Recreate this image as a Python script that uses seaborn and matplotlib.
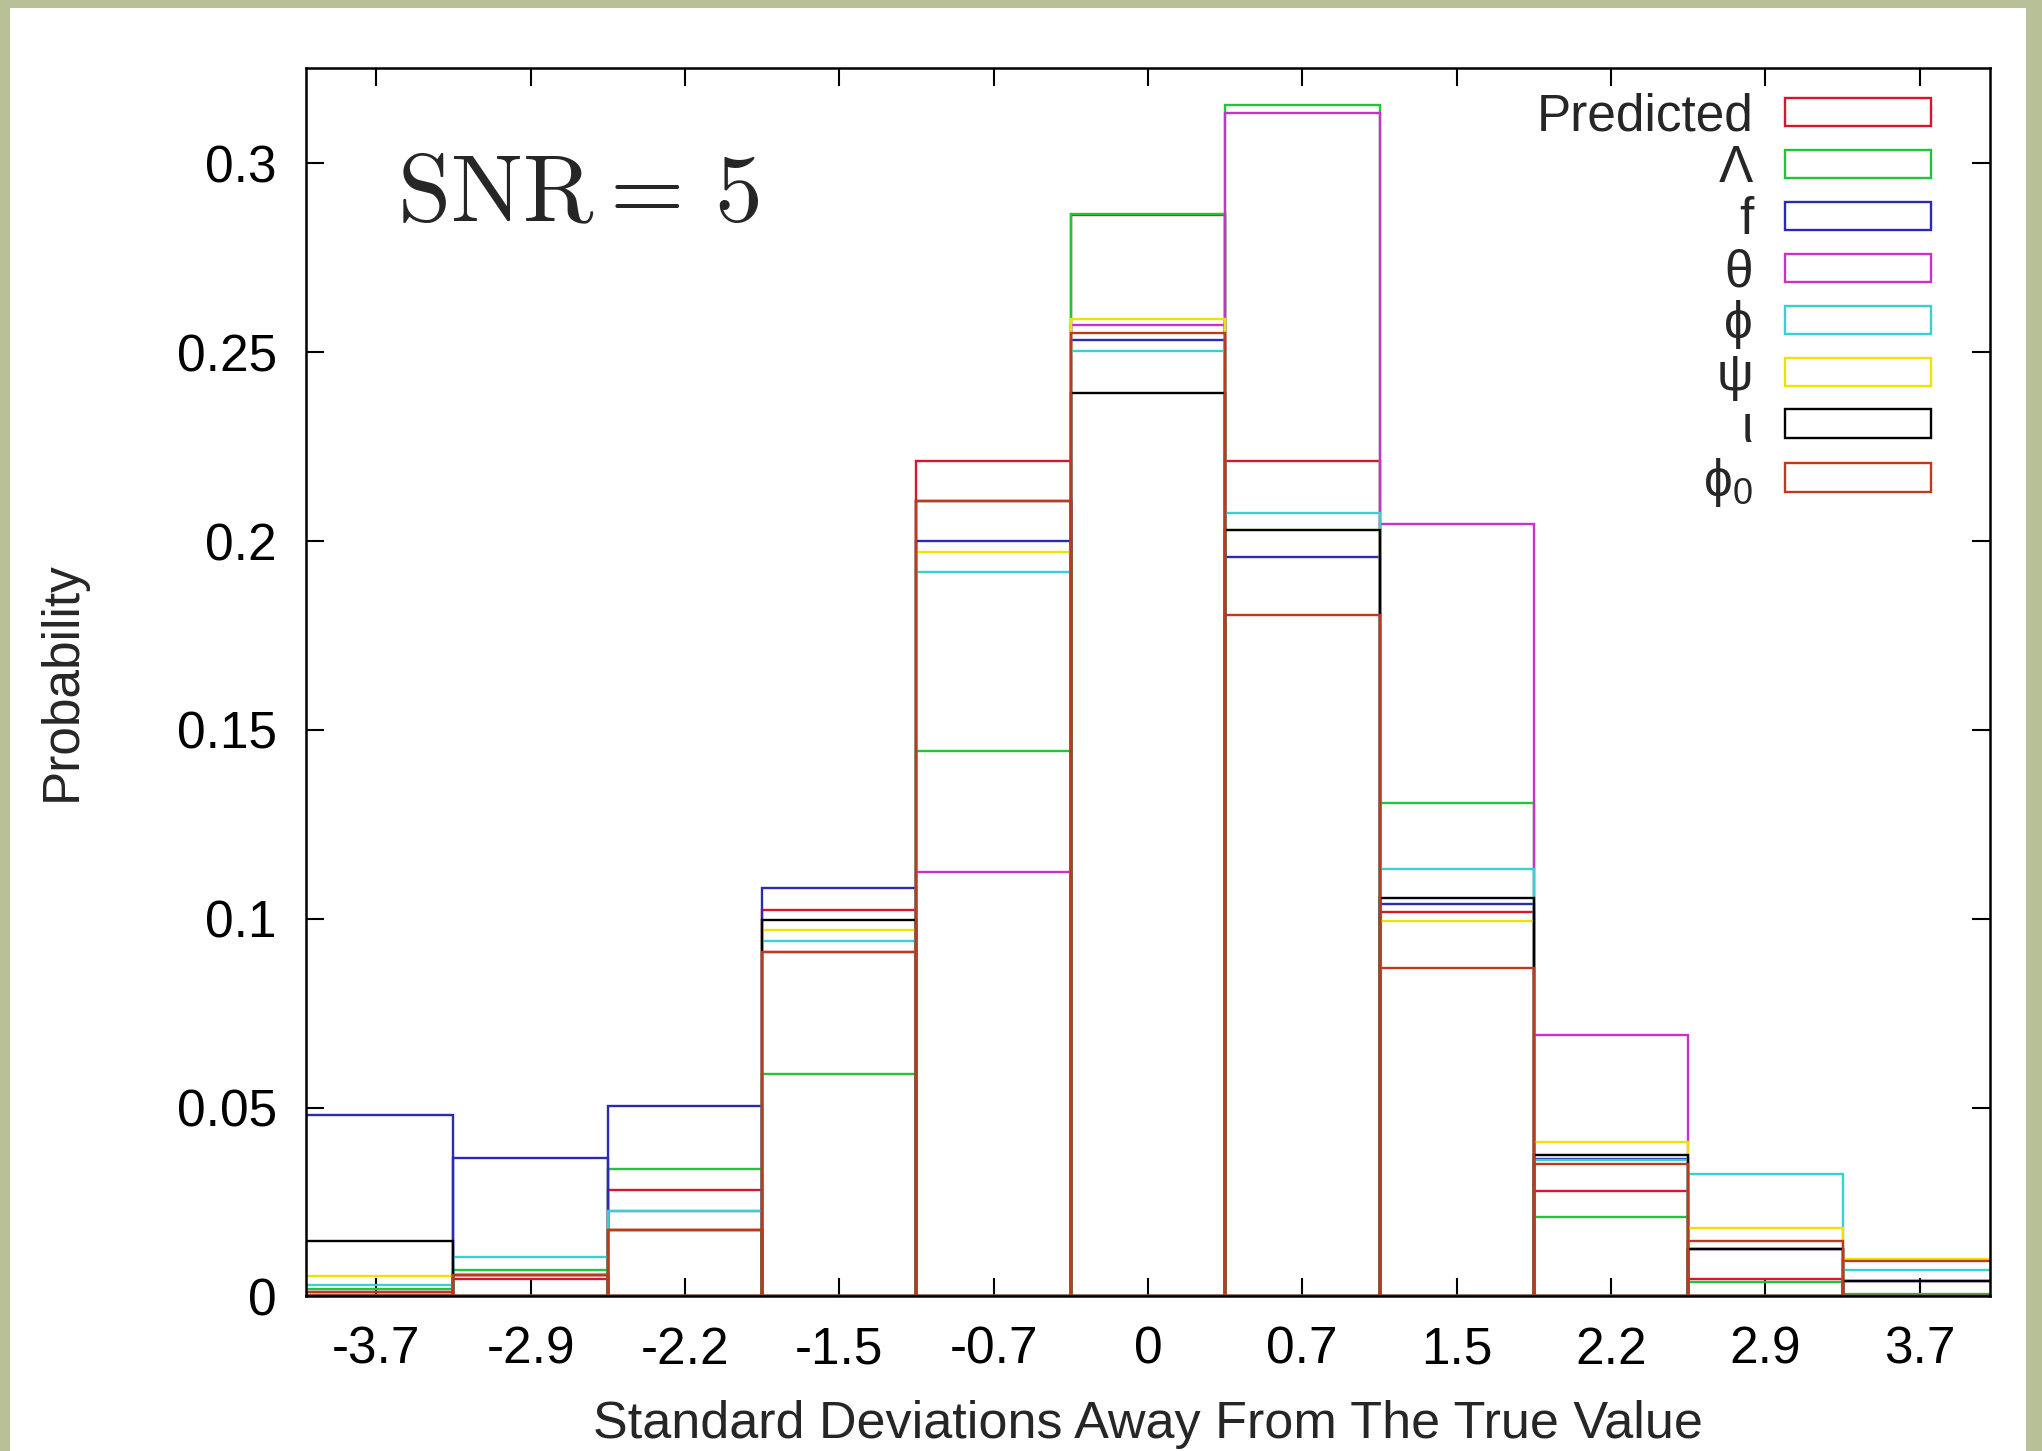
import matplotlib
matplotlib.use("Agg")
import matplotlib.pyplot as plt
import seaborn as sns
import numpy as np
import pandas as pd
from matplotlib.patches import Rectangle

# ---------------- data ----------------
bin_centers = [-3.667, -2.933, -2.2, -1.467, -0.733, 0.0, 0.733, 1.467, 2.2, 2.933, 3.667]
xtick_labels = ["-3.7", "-2.9", "-2.2", "-1.5", "-0.7", "0", "0.7", "1.5", "2.2", "2.9", "3.7"]
ytick_values = [0, 0.05, 0.1, 0.15, 0.2, 0.25, 0.3]
ytick_labels = ["0", "0.05", "0.1", "0.15", "0.2", "0.25", "0.3"]

series_names = ["Predicted", "Λ", "f", "θ", "ϕ", "ψ", "ι", "ϕ$_0$"]

predicted = [0.00045, 0.0046, 0.0283, 0.1023, 0.2212, 0.2862, 0.2212, 0.1017, 0.0278, 0.0046, 0.00045]
lam       = [0.0019, 0.0070, 0.0337, 0.0588, 0.1443, 0.2865, 0.3154, 0.1307, 0.0211, 0.0039, 0.0007]
f_par     = [0.0481, 0.0366, 0.0503, 0.1081, 0.2000, 0.2531, 0.1959, 0.1039, 0.0365, 0.0126, 0.0042]
theta     = [0.0013, 0.0057, 0.0225, 0.0912, 0.1125, 0.2572, 0.3132, 0.2044, 0.0692, 0.0126, 0.0042]
phi       = [0.0030, 0.0105, 0.0225, 0.0942, 0.1917, 0.2503, 0.2073, 0.1131, 0.0361, 0.0324, 0.0070]
psi       = [0.0055, 0.0057, 0.0176, 0.0970, 0.1972, 0.2587, 0.2029, 0.0995, 0.0410, 0.0181, 0.0098]
iota      = [0.0148, 0.0057, 0.0176, 0.0997, 0.2106, 0.2391, 0.2029, 0.1054, 0.0375, 0.0126, 0.0042]
phi0      = [0.0013, 0.0057, 0.0176, 0.0912, 0.2106, 0.2552, 0.1804, 0.0869, 0.0351, 0.0148, 0.0095]

series_values = [predicted, lam, f_par, theta, phi, psi, iota, phi0]
series_colors = ["#d8142e", "#22c43c", "#2a2ab4", "#c832c8", "#3ccfd2", "#ece400", "#000000", "#c0381e"]

# ---------------- style ----------------
sns.set_theme(style="ticks")
plt.rcParams["font.family"] = ["Liberation Sans", "DejaVu Sans"]
plt.rcParams["mathtext.fontset"] = "custom"
plt.rcParams["mathtext.rm"] = "Liberation Sans"
plt.rcParams["mathtext.it"] = "Liberation Sans:italic"

fig = plt.figure(figsize=(20.42, 14.51), dpi=100)
fig.patch.set_facecolor("#b7c097")
fig.patches.append(Rectangle((10 / 2042, 0), 2016 / 2042, 1443 / 1451,
                             transform=fig.transFigure, facecolor="white",
                             edgecolor="none", zorder=-10))

ax = fig.add_axes([0.1499, 0.1065, 0.8246, 0.8468])
ax.set_facecolor("white")

centers = np.array(bin_centers)
half = (centers[1] - centers[0]) / 2
edges = [float(c - half) for c in centers] + [float(centers[-1] + half)]

for name, vals, col in zip(series_names, series_values, series_colors):
    df = pd.DataFrame({"x": centers, "w": vals})
    sns.histplot(data=df, x="x", weights="w", bins=edges, element="bars", fill=False,
                 color=col, linewidth=1.7, label=name, ax=ax)

ax.set_xlim(-4, 4)
ax.set_ylim(0, 0.3253)
ax.set_xticks(centers)
ax.set_xticklabels(xtick_labels)
ax.set_yticks(ytick_values)
ax.set_yticklabels(ytick_labels)
ax.tick_params(direction="in", length=13, width=1.5, top=True, right=True,
               labelsize=37, pad=21, colors="black")
for sp in ax.spines.values():
    sp.set_visible(True)
    sp.set_linewidth(1.8)
    sp.set_color("black")

ax.set_xlabel("Standard Deviations Away From The True Value", fontsize=37.5)
ax.xaxis.set_label_coords(0.5, -0.104)
ax.xaxis.label.set_va("center")
ax.set_ylabel("Probability", fontsize=37)
ax.yaxis.set_label_coords(-0.145, 0.501)
ax.yaxis.label.set_va("center")

ax.text(0.054, 0.875, r"$\mathrm{SNR} =\, 5$", transform=ax.transAxes, fontsize=69,
        math_fontfamily="cm", ha="left", va="baseline")

leg = ax.legend(loc="upper right", bbox_to_anchor=(0.965, 0.98), markerfirst=False,
                frameon=False, fontsize=37, handlelength=2.84, handleheight=0.47,
                handletextpad=0.62, labelspacing=0.057, borderpad=0, borderaxespad=0)

fig.savefig("out.png", dpi=100, facecolor=fig.get_facecolor())
